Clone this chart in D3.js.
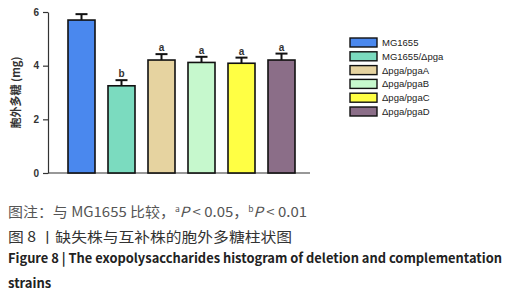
<!doctype html>
<html lang="en">
<head>
  <meta charset="utf-8">
  <style>
    body { margin: 0; background: #fff; }
    svg text { font-family: "Noto Sans CJK SC", "Liberation Sans", sans-serif; }
  </style>
</head>
<body>
  <script src="https://d3js.org/d3.v7.min.js" charset="utf-8"></script>
  <div id="chart"></div>
  <script>
    // data
    var strains = ["MG1655", "MG1655/Δpga", "Δpga/pgaA", "Δpga/pgaB", "Δpga/pgaC", "Δpga/pgaD"];
    var means   = [5.70, 3.25, 4.21, 4.12, 4.09, 4.21];
    var errs    = [0.22, 0.21, 0.22, 0.21, 0.21, 0.24];
    var marks   = ["", "b", "a", "a", "a", "a"];
    var colors  = ["#4a88ee", "#7bdbbf", "#e6d3a0", "#c6f8cd", "#ffff44", "#8b6e88"];
    var yTicks  = [0, 2, 4, 6];

    var width = 516, height = 300;
    var svg = d3.select("#chart").append("svg")
        .attr("width", width)
        .attr("height", height);

    // scales
    var x = d3.scaleBand()
        .domain(strains)
        .range([48, 315])
        .paddingInner(0.325)
        .paddingOuter(0.5);
    var y = d3.scaleLinear()
        .domain([0, 6])
        .range([173, 12]);

    // y axis
    var yAxis = svg.append("g")
        .attr("transform", "translate(48,0)")
        .call(d3.axisLeft(y).tickValues(yTicks).tickFormat(d3.format("d")).tickSize(5).tickSizeOuter(0));
    yAxis.select(".domain").attr("stroke", "#333").attr("stroke-width", 1.2);
    yAxis.selectAll(".tick line").attr("stroke", "#333").attr("stroke-width", 1.2);
    yAxis.selectAll(".tick text")
        .attr("x", -9)
        .style("font-family", "Liberation Sans, sans-serif")
        .style("font-size", "10px")
        .style("font-weight", "bold")
        .attr("fill", "#333");

    // x axis (no labels)
    svg.append("line")
        .attr("x1", 48).attr("x2", 310)
        .attr("y1", y(0)).attr("y2", y(0))
        .attr("stroke", "#333").attr("stroke-width", 1.2);

    // y label
    svg.append("text")
        .attr("transform", "translate(20," + y(3) + ") rotate(-90)")
        .attr("text-anchor", "middle")
        .style("font-size", "11px")
        .style("font-weight", "bold")
        .attr("fill", "#333")
        .text("胞外多糖 (mg)");

    var idx = d3.range(strains.length);

    // error bars (drawn under bars so only upper half shows)
    var eb = svg.append("g").selectAll("g").data(idx).enter().append("g");
    eb.append("line")
        .attr("x1", function(i) { return x(strains[i]) + x.bandwidth() / 2; })
        .attr("x2", function(i) { return x(strains[i]) + x.bandwidth() / 2; })
        .attr("y1", function(i) { return y(means[i]); })
        .attr("y2", function(i) { return y(means[i] + errs[i]); })
        .attr("stroke", "#111").attr("stroke-width", 2);
    eb.append("line")
        .attr("x1", function(i) { return x(strains[i]) + x.bandwidth() / 2 - 6; })
        .attr("x2", function(i) { return x(strains[i]) + x.bandwidth() / 2 + 6; })
        .attr("y1", function(i) { return y(means[i] + errs[i]); })
        .attr("y2", function(i) { return y(means[i] + errs[i]); })
        .attr("stroke", "#111").attr("stroke-width", 2);

    // bars
    svg.append("g").selectAll("rect").data(idx).enter().append("rect")
        .attr("x", function(i) { return x(strains[i]); })
        .attr("y", function(i) { return y(means[i]); })
        .attr("width", x.bandwidth())
        .attr("height", function(i) { return y(0) - y(means[i]); })
        .attr("fill", function(i) { return colors[i]; })
        .attr("stroke", "#111")
        .attr("stroke-width", 1.6);

    // significance letters
    svg.append("g").selectAll("text").data(idx).enter().append("text")
        .attr("x", function(i) { return x(strains[i]) + x.bandwidth() / 2; })
        .attr("y", function(i) { return y(means[i] + errs[i]) - 3; })
        .attr("text-anchor", "middle")
        .style("font-family", "Liberation Sans, sans-serif")
        .style("font-size", "10px")
        .style("font-weight", "bold")
        .attr("fill", "#333")
        .text(function(i) { return marks[i]; });

    // legend
    var legend = svg.append("g").attr("transform", "translate(350,38)");
    var row = legend.selectAll("g").data(idx).enter().append("g")
        .attr("transform", function(i) { return "translate(0," + i * 13.8 + ")"; });
    row.append("rect")
        .attr("width", 27).attr("height", 9)
        .attr("fill", function(i) { return colors[i]; })
        .attr("stroke", "#111").attr("stroke-width", 1.4);
    row.append("text")
        .attr("x", 32).attr("y", 8)
        .style("font-family", "Liberation Sans, sans-serif")
        .style("font-size", "9.5px")
        .attr("fill", "#222")
        .text(function(i) { return strains[i]; });

    // caption
    var cap = svg.append("g");
    var note = cap.append("text")
        .attr("x", 8).attr("y", 217)
        .style("font-size", "14px")
        .attr("fill", "#555")
        .attr("textLength", 299)
        .attr("lengthAdjust", "spacingAndGlyphs");
    note.append("tspan").text("图注：与 MG1655 比较，");
    note.append("tspan").attr("font-size", "8px").attr("dy", -5).text("a");
    note.append("tspan").attr("dy", 5).attr("font-style", "italic").text("P");
    note.append("tspan").text(" < 0.05，");
    note.append("tspan").attr("font-size", "8px").attr("dy", -5).text("b");
    note.append("tspan").attr("dy", 5).attr("font-style", "italic").text("P");
    note.append("tspan").text(" < 0.01");

    cap.append("text")
        .attr("x", 8).attr("y", 242)
        .style("font-size", "14px")
        .attr("fill", "#333")
        .attr("textLength", 284)
        .attr("lengthAdjust", "spacingAndGlyphs")
        .text("图 8 丨缺失株与互补株的胞外多糖柱状图");

    cap.append("text")
        .attr("x", 8).attr("y", 263)
        .style("font-size", "13px")
        .style("font-weight", "bold")
        .attr("fill", "#222")
        .attr("textLength", 494)
        .attr("lengthAdjust", "spacingAndGlyphs")
        .text("Figure 8  |  The exopolysaccharides histogram of deletion and complementation");

    cap.append("text")
        .attr("x", 8).attr("y", 288)
        .style("font-size", "13px")
        .style("font-weight", "bold")
        .attr("fill", "#222")
        .text("strains");
  </script>
</body>
</html>
